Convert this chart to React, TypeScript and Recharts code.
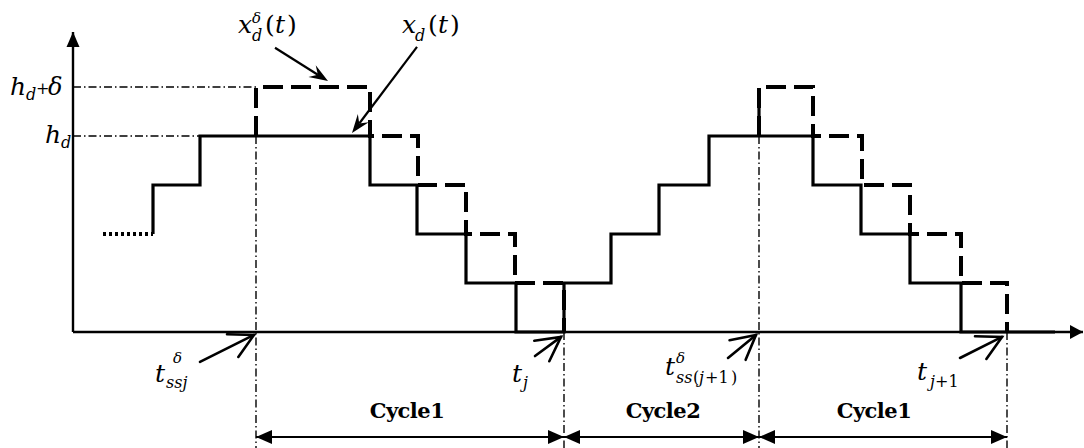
import React from "react"
import {
  ComposedChart,
  Line,
  XAxis,
  YAxis,
  ReferenceLine,
  ReferenceDot
} from "recharts"

// time runs in picture units from the origin, level in staircase steps (hd = 4, hd+δ = 5)
const leadTimes = [30, 80]
const leadLevels = [2, 2]

const xdTimes = [80, 80, 127, 297, 344, 393, 443, 491, 538, 586, 636, 740, 788, 837, 888, 982]
const xdLevels = [2, 3, 4, 3, 2, 1, 0, 1, 2, 3, 4, 3, 2, 1, 0, 0]

const xdDeltaTimesA = [183, 183, 297, 345, 393, 442, 491]
const xdDeltaLevelsA = [4, 5, 4, 3, 2, 1, 0]

const xdDeltaTimesB = [686, 686, 740, 789, 837, 888, 934]
const xdDeltaLevelsB = [4, 5, 4, 3, 2, 1, 0]

const hd = 4
const hdDelta = 5
const axisTop = 6.12
const axisEnd = 1010

// t_ssj^δ, t_j, t_ss(j+1)^δ, t_j+1
const eventTimes = [183, 491, 686, 934]
const cycleNames = ["Cycle1", "Cycle2", "Cycle1"]
const cycleLabelTimes = [334, 590, 801]
const cycleLabelLevel = -1.755
const cycleArrowLevel = -2.143
const guideBottom = -2.45

// pointer arrows: [fromT, fromLevel, toT, toLevel]
const curvePointers = [
  [202, 5.8, 255, 5.12],
  [344, 5.82, 279, 4.06]
]
const eventPointers = [
  [127, -0.61, 181, -0.06],
  [462, -0.49, 488, -0.1],
  [655, -0.53, 683, -0.06],
  [887, -0.53, 929, -0.1]
]

const zip = (ts: number[], ls: number[]) => ts.map((t, i) => ({ t, h: ls[i] }))

// Liberation Serif does not resolve here, DejaVu Serif does
const FONT = "DejaVu Serif"
const INK = "#000"

type Part = { s: string; dx: number; dy?: number; size?: number; up?: boolean }

function mathShape(parts: Part[]) {
  return (p: any) => (
    <g>
      {parts.map((q, i) => (
        <text
          key={i}
          x={p.cx + q.dx}
          y={p.cy + (q.dy ?? 0)}
          fontFamily={FONT}
          fontSize={q.size ?? 25}
          fontStyle={q.up ? "normal" : "italic"}
          fill={INK}
        >
          {q.s}
        </text>
      ))}
    </g>
  )
}

function boldShape(label: string) {
  return (p: any) => (
    <text
      x={p.cx}
      y={p.cy}
      textAnchor="middle"
      fontFamily={FONT}
      fontWeight="bold"
      fontSize={21}
      letterSpacing={-0.5}
      fill={INK}
    >
      {label}
    </text>
  )
}

const rad = (d: number) => (d * Math.PI) / 180

function triangle(x: number, y: number, back: number, len: number, half: number) {
  const bx = x + Math.cos(back) * len
  const by = y + Math.sin(back) * len
  const px = -Math.sin(back) * half
  const py = Math.cos(back) * half
  return `${x},${y} ${bx + px},${by + py} ${bx - px},${by - py}`
}

function openArrow(barb: number, spread: number, width: number) {
  return (p: any) => {
    const { x1, y1, x2, y2 } = p
    const back = Math.atan2(y1 - y2, x1 - x2)
    const a = rad(spread)
    return (
      <g stroke={INK} strokeWidth={width} fill="none" strokeLinecap="round">
        <line x1={x1} y1={y1} x2={x2} y2={y2} />
        <polyline
          points={`${x2 + Math.cos(back + a) * barb},${y2 + Math.sin(back + a) * barb} ${x2},${y2} ${
            x2 + Math.cos(back - a) * barb
          },${y2 + Math.sin(back - a) * barb}`}
        />
      </g>
    )
  }
}

function stealthArrow(p: any) {
  const { x1, y1, x2, y2 } = p
  const back = Math.atan2(y1 - y2, x1 - x2)
  const a = rad(20)
  const len = 20
  const pts = [
    [x2, y2],
    [x2 + Math.cos(back + a) * len, y2 + Math.sin(back + a) * len],
    [x2 + Math.cos(back) * len * 0.6, y2 + Math.sin(back) * len * 0.6],
    [x2 + Math.cos(back - a) * len, y2 + Math.sin(back - a) * len]
  ]
  return (
    <g>
      <line x1={x1} y1={y1} x2={pts[2][0]} y2={pts[2][1]} stroke={INK} strokeWidth={2.2} />
      <polygon points={pts.map((q) => q.join(",")).join(" ")} fill={INK} />
    </g>
  )
}

function axisArrow(len: number, half: number) {
  return (p: any) => {
    const { x1, y1, x2, y2 } = p
    const back = Math.atan2(y1 - y2, x1 - x2)
    return (
      <g>
        <line x1={x1} y1={y1} x2={x2} y2={y2} stroke={INK} strokeWidth={2.4} />
        <polygon points={triangle(x2, y2, back, len, half)} fill={INK} />
      </g>
    )
  }
}

function spanArrow(p: any) {
  const { x1, y1, x2, y2 } = p
  const back = Math.atan2(y1 - y2, x1 - x2)
  return (
    <g>
      <line x1={x1} y1={y1} x2={x2} y2={y2} stroke={INK} strokeWidth={2.2} />
      <polygon points={triangle(x2, y2, back, 16, 7)} fill={INK} />
      <polygon points={triangle(x1, y1, back + Math.PI, 16, 7)} fill={INK} />
    </g>
  )
}

const dashDot = { stroke: INK, strokeWidth: 1.4, strokeDasharray: "8 3 1.5 3" }

const labels: { t: number; h: number; parts: Part[] }[] = [
  {
    t: 165,
    h: 6.1,
    parts: [
      { s: "x", dx: 0 },
      { s: "δ", dx: 14, dy: -10, size: 15 },
      { s: "d", dx: 14, dy: 8, size: 16 },
      { s: "(", dx: 27, up: true },
      { s: "t", dx: 37 },
      { s: ")", dx: 49, up: true }
    ]
  },
  {
    t: 329,
    h: 6.1,
    parts: [
      { s: "x", dx: 0 },
      { s: "d", dx: 13, dy: 8, size: 16 },
      { s: "(", dx: 26, up: true },
      { s: "t", dx: 36 },
      { s: ")", dx: 48, up: true }
    ]
  },
  {
    t: -63,
    h: 4.84,
    parts: [
      { s: "h", dx: 0 },
      { s: "d", dx: 16, dy: 5, size: 16 },
      { s: "+", dx: 26, dy: -1, size: 16, up: true },
      { s: "δ", dx: 38, size: 24 }
    ]
  },
  {
    t: -28,
    h: 3.86,
    parts: [
      { s: "h", dx: 0 },
      { s: "d", dx: 16, dy: 5, size: 16 }
    ]
  },
  {
    t: 82,
    h: -1.02,
    parts: [
      { s: "t", dx: 0 },
      { s: "δ", dx: 18, dy: -19, size: 15 },
      { s: "ssj", dx: 11, dy: 6, size: 16 }
    ]
  },
  {
    t: 439,
    h: -1.02,
    parts: [
      { s: "t", dx: 0 },
      { s: "j", dx: 11, dy: 6, size: 16 }
    ]
  },
  {
    t: 592,
    h: -0.88,
    parts: [
      { s: "t", dx: 0 },
      { s: "δ", dx: 11, dy: -12, size: 15 },
      { s: "ss", dx: 11, dy: 8, size: 16 },
      { s: "(", dx: 28, dy: 8, size: 16, up: true },
      { s: "j", dx: 34, dy: 8, size: 16 },
      { s: "+1", dx: 40, dy: 8, size: 16, up: true },
      { s: ")", dx: 66, dy: 8, size: 16, up: true }
    ]
  },
  {
    t: 844,
    h: -0.98,
    parts: [
      { s: "t", dx: 0 },
      { s: "j", dx: 13, dy: 7, size: 16 },
      { s: "+1", dx: 18, dy: 7, size: 16, up: true }
    ]
  }
]

export default function App() {
  return (
    <div style={{ width: 1084, height: 448, background: "#fff" }}>
      <style>{"body{margin:0;background:#fff}"}</style>
      <ComposedChart
        width={1084}
        height={448}
        margin={{ top: 38, right: 11, bottom: 116, left: 73 }}
      >
        <XAxis type="number" dataKey="t" domain={[0, 1000]} hide />
        <YAxis type="number" domain={[0, 6]} hide />

        {/* guide lines */}
        <ReferenceLine segment={[{ x: 0, y: hdDelta }, { x: eventTimes[0], y: hdDelta }]} ifOverflow="visible" {...dashDot} />
        <ReferenceLine segment={[{ x: 0, y: hd }, { x: xdTimes[2], y: hd }]} ifOverflow="visible" {...dashDot} />
        {eventTimes.map((t, i) => (
          <ReferenceLine
            key={`g${i}`}
            segment={[{ x: t, y: i % 2 === 0 ? hd : 0 }, { x: t, y: guideBottom }]}
            ifOverflow="visible"
            {...dashDot}
          />
        ))}

        {/* axes */}
        <ReferenceLine segment={[{ x: 0, y: 0 }, { x: 0, y: axisTop }]} ifOverflow="visible" shape={axisArrow(15, 6.5)} />
        <ReferenceLine segment={[{ x: 0, y: 0 }, { x: axisEnd, y: 0 }]} ifOverflow="visible" shape={axisArrow(13, 7)} />

        <Line
          data={zip(leadTimes, leadLevels)}
          dataKey="h"
          type="linear"
          stroke={INK}
          strokeWidth={4}
          strokeDasharray="3 3"
          dot={false}
          activeDot={false}
          isAnimationActive={false}
        />
        <Line
          data={zip(xdTimes, xdLevels)}
          dataKey="h"
          type="stepAfter"
          stroke={INK}
          strokeWidth={3.2}
          dot={false}
          activeDot={false}
          isAnimationActive={false}
        />
        <Line
          data={zip(xdDeltaTimesA, xdDeltaLevelsA)}
          dataKey="h"
          type="stepAfter"
          stroke={INK}
          strokeWidth={4}
          strokeDasharray="20 8"
          dot={false}
          activeDot={false}
          isAnimationActive={false}
        />
        <Line
          data={zip(xdDeltaTimesB, xdDeltaLevelsB)}
          dataKey="h"
          type="stepAfter"
          stroke={INK}
          strokeWidth={4}
          strokeDasharray="20 8"
          dot={false}
          activeDot={false}
          isAnimationActive={false}
        />
        <ReferenceLine
          segment={[{ x: xdDeltaTimesB[0], y: hd }, { x: xdDeltaTimesB[0], y: 4.92 }]}
          ifOverflow="visible"
          stroke={INK}
          strokeWidth={3.2}
        />

        {/* pointers */}
        {curvePointers.map((a, i) => (
          <ReferenceLine
            key={`c${i}`}
            segment={[{ x: a[0], y: a[1] }, { x: a[2], y: a[3] }]}
            ifOverflow="visible"
            shape={stealthArrow}
          />
        ))}
        {eventPointers.map((a, i) => (
          <ReferenceLine
            key={`e${i}`}
            segment={[{ x: a[0], y: a[1] }, { x: a[2], y: a[3] }]}
            ifOverflow="visible"
            shape={openArrow(27, 28, 2.6)}
          />
        ))}

        {/* cycle spans */}
        {cycleNames.map((name, i) => (
          <ReferenceLine
            key={`s${i}`}
            segment={[
              { x: eventTimes[i], y: cycleArrowLevel },
              { x: eventTimes[i + 1], y: cycleArrowLevel }
            ]}
            ifOverflow="visible"
            shape={spanArrow}
          />
        ))}
        {cycleNames.map((name, i) => (
          <ReferenceDot
            key={`n${i}`}
            x={cycleLabelTimes[i]}
            y={cycleLabelLevel}
            ifOverflow="visible"
            shape={boldShape(name)}
          />
        ))}

        {labels.map((l, i) => (
          <ReferenceDot key={`l${i}`} x={l.t} y={l.h} ifOverflow="visible" shape={mathShape(l.parts)} />
        ))}
      </ComposedChart>
    </div>
  )
}
